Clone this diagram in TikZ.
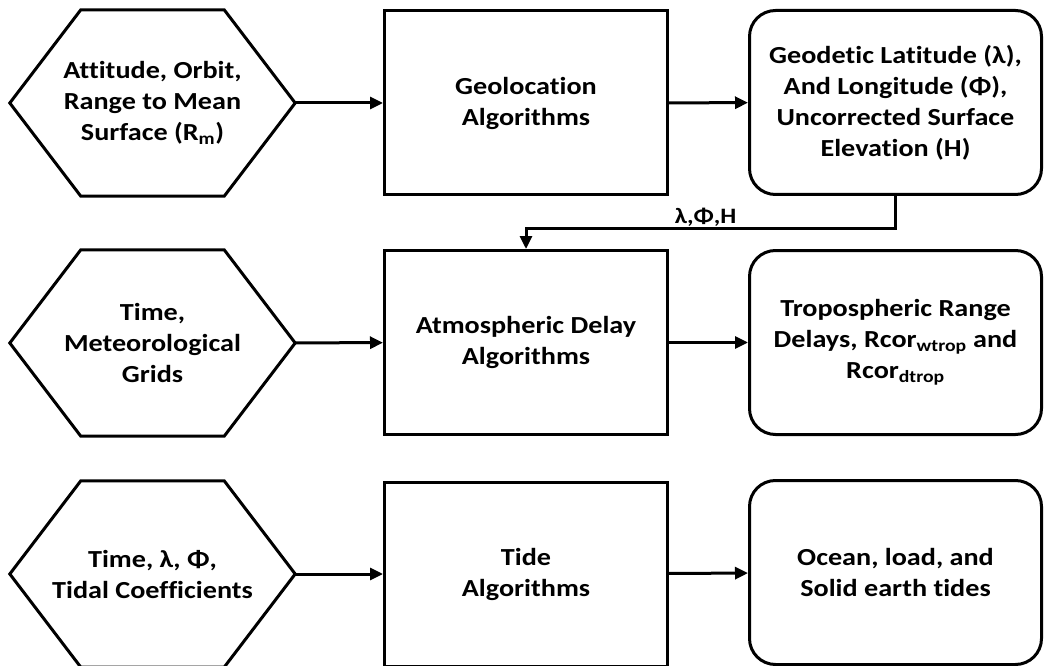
\documentclass[tikz,border=0pt]{standalone}
\usepackage{fontspec}
\setmainfont{Carlito}[FakeStretch=1.15, Ligatures=NoCommon]
\usetikzlibrary{arrows.meta}

\tikzset{
    every node/.style={font=\bfseries\fontsize{24.5}{31}\selectfont, align=center},
    input/.style={rectangle, minimum width=285pt, minimum height=186pt, inner sep=0pt},
    algo/.style={rectangle, draw, line width=3pt,
        minimum width=283pt, minimum height=184pt, inner sep=0pt},
    result/.style={rectangle, rounded corners=26pt, draw, line width=3pt,
        minimum width=292pt, minimum height=184pt, inner sep=0pt},
    flow/.style={line width=3pt, -{Triangle[length=13pt,width=12pt]}}
}

\begin{document}
\begin{tikzpicture}[x=1pt,y=-1pt]
    \useasboundingbox (0,0) rectangle (1045,666);

    % inputs
    \node[input] (orbit) at (152.5,103) {Attitude, Orbit,\\Range to Mean\\Surface (R\textsubscript{m})};
    \node[input] (met) at (152.5,343) {Time,\\Meteorological\\Grids};
    \node[input] (tidal) at (152.5,574) {Time, λ, Φ,\\Tidal Coefficients};
    % hexagon outlines
    \foreach \n in {orbit,met,tidal}
        \draw[line width=3pt, line join=miter] (\n.west) -- ([xshift=71pt]\n.north west)
            -- ([xshift=-71pt]\n.north east) -- (\n.east)
            -- ([xshift=-71pt]\n.south east) -- ([xshift=71pt]\n.south west) -- cycle;

    % algorithms
    \node[algo] (geo) at (526,103) {Geolocation\\Algorithms};
    \node[algo] (atm) at (526,342.5) {Atmospheric Delay\\Algorithms};
    \node[algo] (tide) at (526,574) {Tide\\Algorithms};

    % outputs
    \node[result] (latlon) at (895.5,102.5) {Geodetic Latitude (λ),\\And Longitude (Φ),\\Uncorrected Surface\\Elevation (H)};
    \node[result] (trop) at (895.5,342.5) {Tropospheric Range\\Delays, Rcor\textsubscript{wtrop} and\\Rcor\textsubscript{dtrop}};
    \node[result] (tides) at (895.5,572.5) {Ocean, load, and\\Solid earth tides};

    \draw[flow] (orbit) -- (geo);
    \draw[flow] (geo) -- (latlon);
    \draw[flow] (met) -- (atm);
    \draw[flow] (atm) -- (trop);
    \draw[flow] (tidal) -- (tide);
    \draw[flow] (tide) -- (tides);

    \coordinate (turn) at (latlon.south |- 0,228.5);
    \draw[flow] (latlon.south) -- (turn) -| (atm.north)
        node[pos=0.257, anchor=south, inner sep=1pt, font=\bfseries\fontsize{22}{28}\selectfont] (llh) {λ,Φ,H};
\end{tikzpicture}
\end{document}
